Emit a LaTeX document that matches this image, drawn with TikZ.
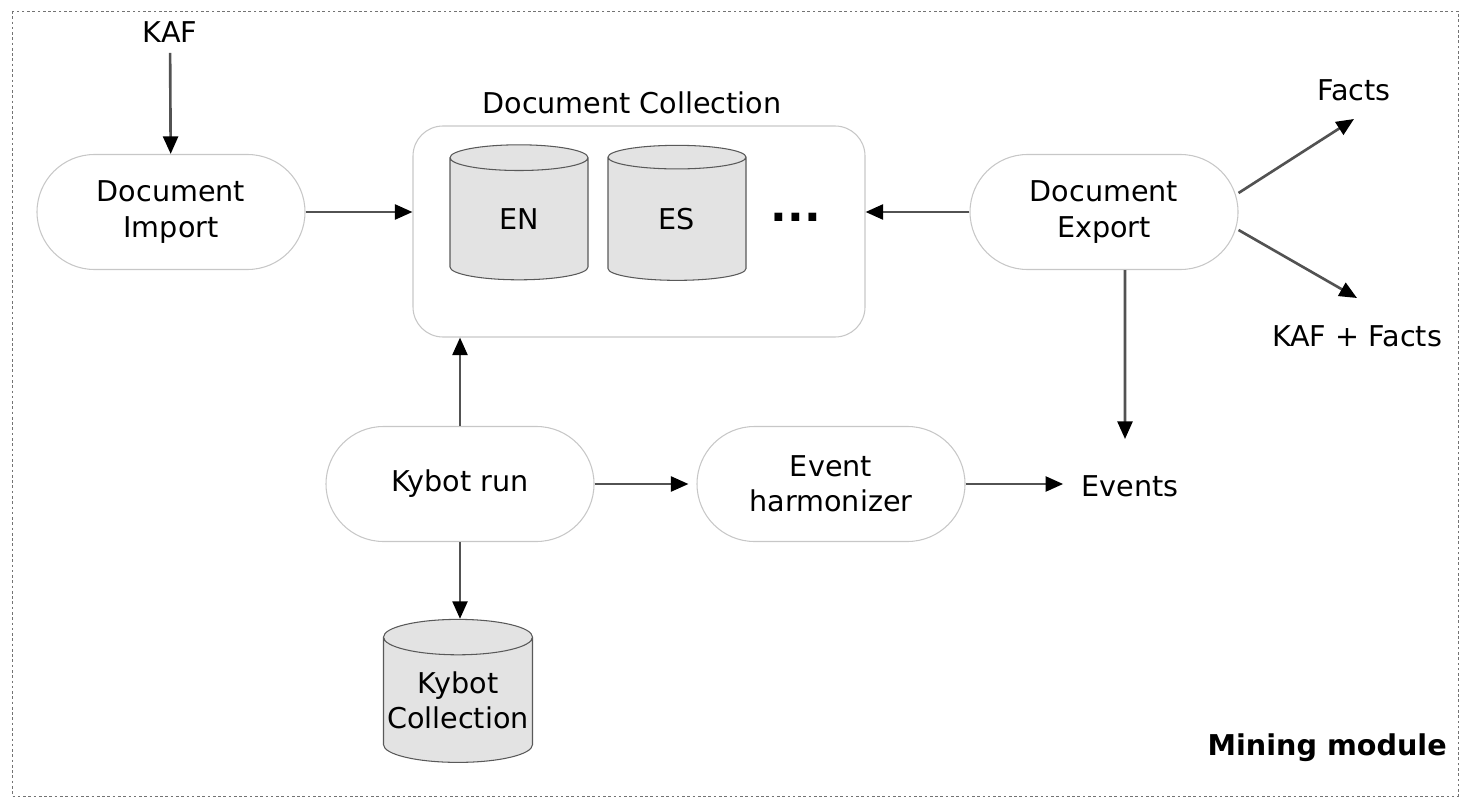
\documentclass[tikz,border=0pt]{standalone}
\usepackage{fontspec}
\setmainfont{DejaVu Sans}
\usetikzlibrary{shapes.geometric,shapes.misc,arrows.meta}

\begin{document}
\begin{tikzpicture}[x=0.2mm, y=0.2mm,
  every node/.style={font=\fontsize{16.3}{20}\selectfont, inner sep=0pt},
  proc/.style={rounded rectangle, draw=black!22, line width=0.6pt, minimum width=5.36cm, minimum height=2.3cm, align=center},
  store/.style={cylinder, shape border rotate=90, draw=black!65, fill=black!11, line width=0.6pt, align=center},
  flow/.style={draw=black!68, line width=1.5pt, -{Triangle[length=10pt,width=8.5pt,color=black]}}]
\useasboundingbox (0,0) rectangle (1470,-798);
\draw [black!55, dash pattern=on 1.5pt off 1.5pt] (12,-11) rectangle (1458,-796);
\node (kaf) at (170,-32) {KAF};
\node [proc] (import) at (171,-212) {Document\\Import};
\node [draw=black!22, line width=0.6pt, rounded corners=0.6cm, minimum width=9.04cm, minimum height=4.22cm] (coll) at (639,-231.5) {};
\node (colllabel) at (632,-103) {Document Collection};
\node [store, aspect=0.65, minimum width=2.76cm, minimum height=2.7cm] (en) at (519,-219) {EN};
\node [store, aspect=0.65, minimum width=2.76cm, minimum height=2.7cm] (es) at (677,-219) {ES};
\node [font=\fontsize{25}{30}\selectfont\bfseries] (dots) at (796,-217) {...};
\node [proc] (export) at (1104,-212) {Document\\Export};
\node (facts) at (1354,-90) {Facts};
\node (kaffacts) at (1357,-336) {KAF + Facts};
\node [proc] (kybot) at (460,-484) {Kybot run};
\node [proc] (harm) at (831,-484) {Event\\harmonizer};
\node (events) at (1130,-486) {Events};
\node [store, aspect=0.25, minimum width=2.98cm, minimum height=2.86cm] (kcoll) at (458,-700) {Kybot\\Collection};
\node [font=\fontsize{16.3}{20}\selectfont\bfseries, anchor=east] (mining) at (1447,-748) {Mining module};
\draw [flow, shorten <=0.2cm] (kaf) -- (import);
\draw [flow] (import.east) -- (import.east -| coll.west);
\draw [flow] (export.west) -- (export.west -| coll.east);
\draw [flow] ([yshift=0.38cm]export.east) -- ([yshift=-0.36cm]facts.south);
\draw [flow] ([yshift=-0.36cm]export.east) -- ([yshift=0.54cm]kaffacts.north);
\draw [flow] ([xshift=0.42cm]export.south) -- ([xshift=-0.1cm,yshift=0.72cm]events.north);
\draw [flow] (kybot.north) -- (kybot.north |- coll.south);
\draw [flow, shorten >=0.16cm] (kybot.east) -- (harm.west);
\draw [flow, shorten >=0.36cm] (harm.east) -- (harm.east -| events.west);
\draw [flow] (kybot.south) -- (kybot.south |- kcoll.north);
\end{tikzpicture}
\end{document}
